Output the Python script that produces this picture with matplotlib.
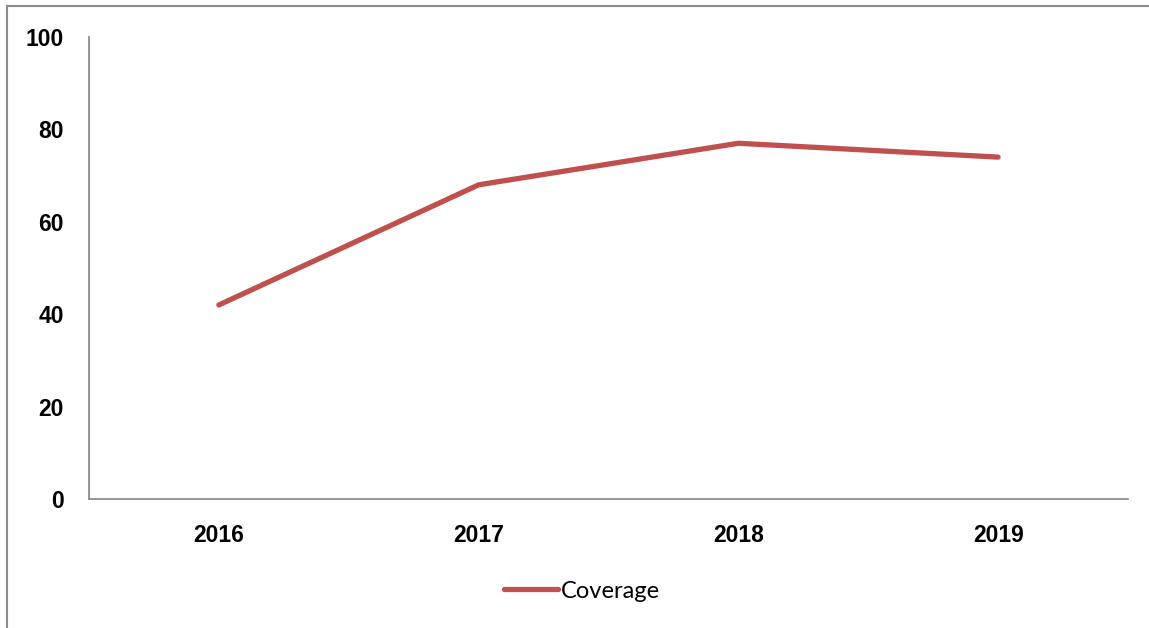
import matplotlib
matplotlib.use("Agg")
import matplotlib.pyplot as plt
from matplotlib.lines import Line2D

years = ["2016", "2017", "2018", "2019"]
coverage = [42, 68, 77, 74]
yticks = [0, 20, 40, 60, 80, 100]

W, H = 1149, 628
fig = plt.figure(figsize=(W/100, H/100), dpi=100)
plt.rcParams['font.family'] = ['Lato', 'DejaVu Sans']

ax = fig.add_axes([89/W, 1-499/H, (1128-89)/W, (499-37)/H])
x = [i + 0.5 for i in range(len(years))]
ax.plot(x, coverage, color="#C0504D", linewidth=3.8, solid_capstyle="round", label="Coverage")
ax.set_xlim(0, len(years))
ax.set_ylim(0, 100)
ax.set_xticks(x)
ax.set_xticklabels(years)
ax.set_yticks(yticks)
ax.set_yticklabels([str(v) for v in yticks])
for t in ax.get_xticklabels() + ax.get_yticklabels():
    t.set_fontfamily(['Liberation Sans', 'DejaVu Sans'])
    t.set_fontweight('bold')
    t.set_fontsize(16.5)
ax.tick_params(axis="both", length=0)
ax.tick_params(axis="y", pad=18)
ax.tick_params(axis="x", pad=18)
for s in ["top", "right"]:
    ax.spines[s].set_visible(False)
for s in ["left", "bottom"]:
    ax.spines[s].set_color("#8C8C8C")
    ax.spines[s].set_linewidth(1.3)

leg = fig.legend(loc="center", bbox_to_anchor=(582/W, 1-591/H), frameon=False,
                 fontsize=17, handlelength=2.25, handletextpad=0.12)

# outer border (left and top)
fig.add_artist(Line2D([7/W, 7/W], [0, 1-6/H], transform=fig.transFigure, color="#8C8C8C", linewidth=1.5))
fig.add_artist(Line2D([7/W, 1], [1-6/H, 1-6/H], transform=fig.transFigure, color="#8C8C8C", linewidth=1.5))

fig.savefig("out.png", dpi=100)
